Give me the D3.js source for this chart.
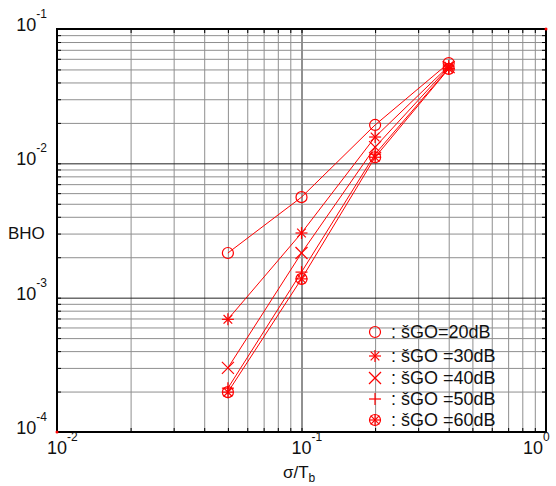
<!DOCTYPE html>
<html>
<head>
<meta charset="utf-8">
<script src="https://cdn.jsdelivr.net/npm/d3@7"></script>
<style>
  body { margin: 0; background: #fff; }
  svg { display: block; font-family: "Liberation Sans", Arial, sans-serif; }
</style>
</head>
<body>
<div class="chart"></div>
<script>
// sigma / Tb
const xValues = [0.05, 0.1, 0.2, 0.4]
const seriesNames = ["20dB", "30dB", "40dB", "50dB", "60dB"]
const legendLabels = [": šGO=20dB", ": šGO =30dB", ": šGO =40dB", ": šGO =50dB", ": šGO =60dB"]
const bho20 = [2.15e-3, 5.6e-3, 0.0193, 0.0558]
const bho30 = [6.9e-4, 3.03e-3, 0.0157, 0.053]
const bho40 = [3.0e-4, 2.15e-3, 0.0132, 0.052]
const bho50 = [2.12e-4, 1.55e-3, 0.0117, 0.051]
const bho60 = [1.98e-4, 1.38e-3, 0.0111, 0.0505]
const xTickLabels = [-2, -1, 0]
const yTickLabels = [-4, -3, -2, -1]

const allSeries = [bho20, bho30, bho40, bho50, bho60]
const markerType = ["circle", "star", "cross", "plus", "circlestar"]

const width = 556
const height = 486
const m = {left: 57, right: 546, top: 29, bottom: 432}
const red = "#ff0000"

const svg = d3.select(".chart").append("svg")
    .attr("width", width)
    .attr("height", height)
    .attr("viewBox", [0, 0, width, height])

const x = d3.scaleLog().domain([0.01, 1]).range([m.left, m.right])
const y = d3.scaleLog().domain([1e-4, 1e-1]).range([m.bottom, m.top])

const isMajor = v => Math.abs(Math.log10(v) - Math.round(Math.log10(v))) < 1e-6

// grid
svg.append("g")
    .attr("transform", `translate(0,${m.bottom})`)
    .call(d3.axisBottom(x).tickSize(-(m.bottom - m.top)).tickFormat(""))
    .call(g => g.select(".domain").remove())
    .call(g => g.selectAll(".tick line")
        .attr("stroke", d => isMajor(d) ? "#222" : "#8f8f8f"))

svg.append("g")
    .attr("transform", `translate(${m.left},0)`)
    .call(d3.axisLeft(y).tickSize(-(m.right - m.left)).tickFormat(""))
    .call(g => g.select(".domain").remove())
    .call(g => g.selectAll(".tick line")
        .attr("stroke", d => isMajor(d) ? "#222" : "#8f8f8f"))

// inner tick marks on all four sides
const tickLen = 4
svg.append("g").attr("transform", `translate(0,${m.bottom})`)
    .call(d3.axisBottom(x).tickSize(-tickLen).tickFormat(""))
    .call(g => g.select(".domain").remove())
svg.append("g").attr("transform", `translate(0,${m.top})`)
    .call(d3.axisTop(x).tickSize(-tickLen).tickFormat(""))
    .call(g => g.select(".domain").remove())
svg.append("g").attr("transform", `translate(${m.left},0)`)
    .call(d3.axisLeft(y).tickSize(-tickLen).tickFormat(""))
    .call(g => g.select(".domain").remove())
svg.append("g").attr("transform", `translate(${m.right},0)`)
    .call(d3.axisRight(y).tickSize(-tickLen).tickFormat(""))
    .call(g => g.select(".domain").remove())

// frame
svg.append("rect")
    .attr("x", m.left).attr("y", m.top)
    .attr("width", m.right - m.left).attr("height", m.bottom - m.top)
    .attr("fill", "none").attr("stroke", "#000").attr("stroke-width", 2)

// tick labels
const yl = svg.append("g").attr("font-size", 18).attr("fill", "#111")
yTickLabels.forEach(p => {
    const t = yl.append("text")
        .attr("x", 47).attr("y", y(Math.pow(10, p)) + 2)
        .attr("text-anchor", "end")
    t.append("tspan").text("10")
    t.append("tspan").attr("dy", -13).attr("font-size", 12).text(p)
})
xTickLabels.forEach(p => {
    // the last label would run off the right edge, keep it inside
    const px = Math.min(x(Math.pow(10, p)) - 10, width - 33)
    const t = yl.append("text")
        .attr("x", px).attr("y", 454)
    t.append("tspan").text("10")
    t.append("tspan").attr("dy", -13).attr("font-size", 12).text(p)
})

// axis titles
svg.append("text").attr("x", 8).attr("y", 239)
    .attr("font-size", 17).attr("fill", "#111").text("BHO")
const xt = svg.append("text").attr("x", 283).attr("y", 478).attr("font-size", 17).attr("fill", "#111")
xt.append("tspan").text("σ/T")
xt.append("tspan").attr("dy", 4).attr("font-size", 12).text("b")

// markers
function drawMarker(g, type, cx, cy) {
    const s = 6
    const line = (x1, y1, x2, y2) => g.append("line")
        .attr("x1", cx + x1).attr("y1", cy + y1).attr("x2", cx + x2).attr("y2", cy + y2)
        .attr("stroke", red).attr("stroke-width", 1.2)
    const circ = () => g.append("circle").attr("cx", cx).attr("cy", cy).attr("r", 5.5)
        .attr("fill", "none").attr("stroke", red).attr("stroke-width", 1.2)
    if (type === "circle") circ()
    if (type === "star" || type === "circlestar") {
        line(-s, 0, s, 0); line(0, -s, 0, s)
        line(-s * 0.72, -s * 0.72, s * 0.72, s * 0.72); line(-s * 0.72, s * 0.72, s * 0.72, -s * 0.72)
    }
    if (type === "circlestar") circ()
    if (type === "cross") { line(-s, -s, s, s); line(-s, s, s, -s) }
    if (type === "plus") { line(-s, 0, s, 0); line(0, -s, 0, s) }
}

const lineGen = d3.line().x(d => x(d[0])).y(d => y(d[1]))

allSeries.forEach((vals, i) => {
    const pts = xValues.map((xv, j) => [xv, vals[j]])
    svg.append("path").datum(pts)
        .attr("d", lineGen)
        .attr("fill", "none").attr("stroke", red).attr("stroke-width", 1)
    const g = svg.append("g")
    pts.forEach(p => drawMarker(g, markerType[i], x(p[0]), y(p[1])))
})

// legend
const legY = [332, 356, 378, 399, 420]
const leg = svg.append("g")
seriesNames.forEach((n, i) => {
    drawMarker(leg, markerType[i], 375, legY[i])
    leg.append("text").attr("x", 391).attr("y", legY[i] + 6)
        .attr("font-size", 18).attr("fill", "#111").text(legendLabels[i])
})

// small red dots at corners
svg.append("circle").attr("cx", m.left).attr("cy", m.bottom).attr("r", 1.5).attr("fill", red)
svg.append("circle").attr("cx", m.right).attr("cy", m.top).attr("r", 1.5).attr("fill", red)
</script>
</body>
</html>
